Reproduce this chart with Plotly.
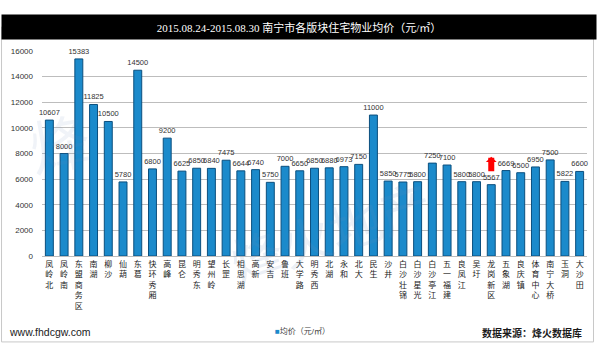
import plotly.graph_objects as go

categories = ["凤岭北", "凤岭南", "东盟商务区", "南湖", "柳沙", "仙葫", "东葛", "快环秀厢",
              "高峰", "昆仑", "明秀东", "望州岭", "长罡", "相思湖", "高新", "安吉", "鲁班",
              "大学路", "明秀西", "北湖", "永和", "北大", "民生", "沙井", "白沙壮锦",
              "白沙星光", "白沙亭江", "五一福建", "良凤江", "吴圩", "龙岗新区", "五象湖",
              "良庆镇", "体育中心", "南宁大桥", "玉洞", "大沙田"]
prices = [10607, 8000, 15383, 11825, 10500, 5780, 14500, 6800, 9200, 6625, 6850, 6840,
          7475, 6644, 6740, 5750, 7000, 6650, 6850, 6880, 6973, 7150, 11000, 5850, 5775,
          5800, 7250, 7100, 5800, 5800, 5567, 6669, 6500, 6950, 7500, 5822, 6600]
y_ticks = [0, 2000, 4000, 6000, 8000, 10000, 12000, 14000, 16000]
y_tick_labels = ["0", "2000", "4000", "6000", "8000", "10000", "12000", "14000", "16000"]
title_text = "2015.08.24-2015.08.30 南宁市各版块住宅物业均价（元/㎡）"
series_name = "均价（元/㎡）"
highlight = "龙岗新区"

W, H = 600, 344
L, R, T, B = 42, 12.5, 51, 88.3
pw, ph = W - L - R, H - T - B

def px(x):
    return (x - L) / pw

def py(y):
    return (H - B - y) / ph

cjk = "Liberation Sans, Noto Sans CJK SC, sans-serif"

fig = go.Figure()
fig.add_trace(go.Bar(
    x=categories, y=prices, name=series_name,
    marker=dict(color="#1B8ACB", line=dict(color="#0B4F7E", width=1)),
    text=[str(v) for v in prices], textposition="outside", constraintext="none",
    textfont=dict(size=7.5, color="#333333", family=cjk),
    cliponaxis=False, showlegend=False,
))

fig.update_layout(
    width=W, height=H,
    margin=dict(l=L, r=R, t=T, b=B),
    paper_bgcolor="white", plot_bgcolor="white",
    bargap=0.46,
    font=dict(family=cjk, color="#333333"),
    xaxis=dict(
        tickmode="array", tickvals=categories,
        ticktext=["<br>".join(list(c)) for c in categories],
        tickfont=dict(size=8, color="#222222", family="Noto Sans CJK SC, sans-serif"),
        tickangle=0, showgrid=False, ticks="", showline=False,
        ticklabelstandoff=2,
    ),
    yaxis=dict(
        range=[0, 16000], tickmode="array", tickvals=y_ticks, ticktext=y_tick_labels,
        tickfont=dict(size=8, color="#333333"),
        showgrid=True, gridcolor="#BDBDBD", gridwidth=1,
        zeroline=True, zerolinecolor="#BDBDBD", zerolinewidth=1,
        ticks="", showline=False, ticklabelstandoff=8,
    ),
)

# frame
fig.add_shape(type="rect", xref="paper", yref="paper",
              x0=px(1.5), x1=px(594), y0=py(341.5), y1=py(27),
              line=dict(color="#C8C8C8", width=1), fillcolor="rgba(0,0,0,0)", layer="below")

# watermark
fig.add_annotation(xref="paper", yref="paper", x=px(330), y=py(300),
                   text="烽火地产", showarrow=False, textangle=-18,
                   font=dict(size=52, color="rgba(110,140,185,0.13)",
                             family="Noto Sans CJK SC, sans-serif"))
fig.add_annotation(xref="paper", yref="paper", x=px(20), y=py(140),
                   text="烽", showarrow=False, textangle=-10,
                   font=dict(size=60, color="rgba(110,140,185,0.10)",
                             family="Noto Sans CJK SC, sans-serif"))

# title bar
fig.add_annotation(xref="paper", yref="paper", x=px(299), y=py(14.5),
                   text=title_text, showarrow=False,
                   width=594, height=24, bgcolor="black", borderpad=0,
                   align="center", valign="middle",
                   font=dict(size=11, color="white",
                             family="Liberation Serif, Noto Sans CJK SC, serif"))

# red arrow above highlighted bar
fig.add_annotation(x=highlight, y=7750, xref="x", yref="y",
                   ax=0, ay=16, axref="pixel", ayref="pixel",
                   text="", showarrow=True, arrowhead=1, arrowsize=0.3,
                   arrowwidth=6, arrowcolor="#FF0000")

# legend-like label
fig.add_annotation(xref="paper", yref="paper", x=px(273), y=py(331),
                   xanchor="left", yanchor="middle", showarrow=False,
                   text='<span style="color:#1B8ACB">■</span>' + series_name,
                   font=dict(size=8, color="#444444"))

# footer
fig.add_annotation(xref="paper", yref="paper", x=px(7), y=py(332),
                   xanchor="left", yanchor="middle", showarrow=False,
                   text="www.fhdcgw.com",
                   font=dict(size=10.5, color="#1a1a1a", family="Liberation Sans, sans-serif"))
fig.add_annotation(xref="paper", yref="paper", x=px(584), y=py(332),
                   xanchor="right", yanchor="middle", showarrow=False,
                   text="<b>数据来源：烽火数据库</b>",
                   font=dict(size=10, color="#1a1a1a", family="Noto Sans CJK SC, sans-serif"))

fig.write_html("out.html")
